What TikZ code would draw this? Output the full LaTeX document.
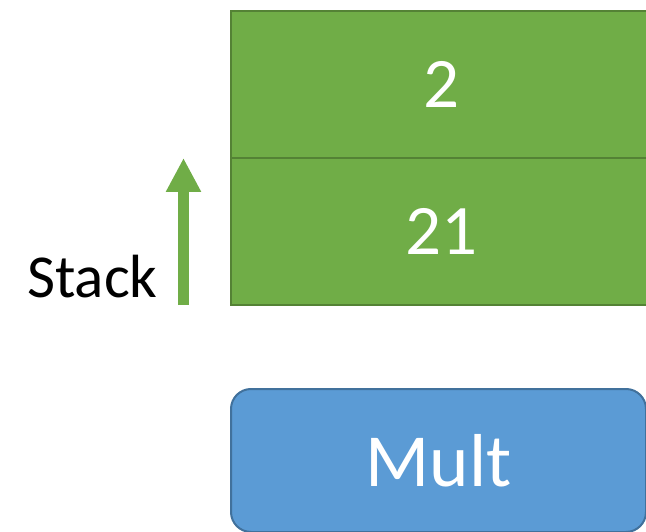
\documentclass[tikz,border=0pt]{standalone}
\usepackage{fontspec}
\setmainfont{Carlito}
\usetikzlibrary{arrows.meta}
\definecolor{stackgreen}{HTML}{70AD47}
\definecolor{stackedge}{HTML}{548235}
\definecolor{opblue}{HTML}{5B9BD5}
\definecolor{opedge}{HTML}{41719C}
\begin{document}
\begin{tikzpicture}[x=1pt,y=1pt,
  cell/.style={draw=stackedge, fill=stackgreen, line width=2pt, text=white,
    minimum width=420pt, minimum height=147pt, anchor=north west, inner sep=0pt,
    font=\fontsize{71}{76}\selectfont},
  opbox/.style={draw=opedge, fill=opblue, line width=2pt, rounded corners=20pt, text=white,
    minimum width=415pt, minimum height=143pt, anchor=north west, inner sep=0pt,
    font=\fontsize{75}{80}\selectfont},
  lbl/.style={inner sep=0pt, font=\fontsize{61}{66}\selectfont}]
\useasboundingbox (0,0) rectangle (646,-532);
\clip (0,0) rectangle (646,-532);
% stack cells
\node[cell] (top) at (230,-10) {2};
\node[cell] (second) at (230,-157) {21};
% operation
\node[opbox] (mult) at (230,-388) {Mult};
% growth direction of the stack
\coordinate (arrowbase) at (183.5,-305);
\coordinate (arrowtip) at (183.5,-158);
\draw[stackgreen, line width=11.5pt, -{Triangle[width=33pt,length=34pt]}] (arrowbase) -- (arrowtip);
\node[lbl, anchor=base west] (stacklabel) at (27,-297) {Stack};
\end{tikzpicture}
\end{document}
